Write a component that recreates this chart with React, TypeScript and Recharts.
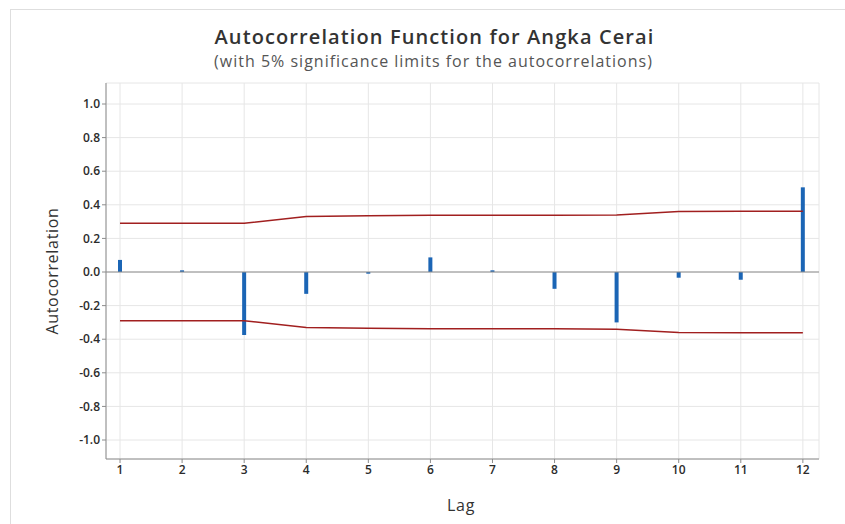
import React from 'react';
import {
	ComposedChart,
	Bar,
	Line,
	XAxis,
	YAxis,
	CartesianGrid,
	ReferenceLine,
} from 'recharts';

// ACF values
const lags = [1, 2, 3, 4, 5, 6, 7, 8, 9, 10, 11, 12];
const acf = [0.072, 0.01, -0.375, -0.13, -0.01, 0.087, 0.01, -0.1, -0.3, -0.034, -0.046, 0.504];
const upperLimit = [0.29, 0.29, 0.29, 0.33, 0.335, 0.338, 0.338, 0.338, 0.34, 0.36, 0.362, 0.362];
const lowerLimit = upperLimit.map((v) => -v);
const yTicks = [-1, -0.8, -0.6, -0.4, -0.2, 0, 0.2, 0.4, 0.6, 0.8, 1];

const data = lags.map((lag, i) => ({
	lag,
	acf: acf[i],
	upper: upperLimit[i],
	lower: lowerLimit[i],
}));

const FONT = '"Open Sans", "Noto Sans", sans-serif';
const tickStyle = { fontSize: 12, fontWeight: 600, fill: '#2b2b2b', fontFamily: FONT };

export default function App() {
	return (
		<div style={{ position: 'absolute', left: 0, top: 0, width: 845, height: 524, background: '#fff' }}>
			{/* outer frame */}
			<div
				style={{
					position: 'absolute',
					left: 10,
					top: 9,
					width: 835,
					height: 515,
					borderTop: '1px solid #dedede',
					borderLeft: '1px solid #dedede',
				}}
			/>
			<div
				style={{
					position: 'absolute',
					left: 0,
					width: 869,
					top: 23,
					textAlign: 'center',
					fontFamily: FONT,
					fontSize: 20,
					fontWeight: 600,
					letterSpacing: 1.1,
					color: '#333',
				}}
			>
				Autocorrelation Function for Angka Cerai
			</div>
			<div
				style={{
					position: 'absolute',
					left: 0,
					width: 867,
					top: 50,
					textAlign: 'center',
					fontFamily: FONT,
					fontSize: 16,
					letterSpacing: 1,
					color: '#555',
				}}
			>
				(with 5% significance limits for the autocorrelations)
			</div>
			<div
				style={{
					position: 'absolute',
					left: 52,
					top: 271,
					transform: 'translate(-50%, -50%) rotate(-90deg)',
					fontFamily: FONT,
					fontSize: 16,
					letterSpacing: 0.7,
					color: '#333',
					whiteSpace: 'nowrap',
				}}
			>
				Autocorrelation
			</div>
			<div
				style={{
					position: 'absolute',
					left: 461,
					top: 505,
					transform: 'translate(-50%, -50%)',
					fontFamily: FONT,
					fontSize: 16,
					letterSpacing: 0.7,
					color: '#333',
				}}
			>
				Lag
			</div>
			<ComposedChart
				width={845}
				height={524}
				data={data}
				margin={{ top: 83, right: 26, bottom: 35, left: 46 }}
				style={{ position: 'absolute', left: 0, top: 0 }}
			>
				<CartesianGrid xAxisId="main" yAxisId="main" stroke="#e6e6e6" strokeWidth={1} />
				<XAxis
					xAxisId="main"
					dataKey="lag"
					type="number"
					domain={[0.774, 12.26]}
					ticks={lags}
					allowDataOverflow
					height={30}
					tick={tickStyle}
					tickSize={4}
					tickLine={{ stroke: '#8c8c8c' }}
					axisLine={{ stroke: '#8c8c8c' }}
				/>
				<XAxis xAxisId="top" orientation="top" type="number" domain={[0.774, 12.26]} tick={false} tickLine={false} axisLine={{ stroke: '#9a9a9a' }} height={0} />
				<YAxis
					yAxisId="main"
					type="number"
					domain={[-1.113, 1.125]}
					ticks={yTicks}
					allowDataOverflow
					width={60}
					tick={tickStyle}
					tickSize={4}
					tickFormatter={(v: number) => v.toFixed(1)}
					tickLine={{ stroke: '#8c8c8c' }}
					axisLine={{ stroke: '#8c8c8c' }}
				/>
				<YAxis yAxisId="right" orientation="right" type="number" domain={[-1.113, 1.125]} tick={false} tickLine={false} axisLine={{ stroke: '#9a9a9a' }} width={0} />
				<ReferenceLine xAxisId="main" yAxisId="main" y={0} stroke="#8c8c8c" strokeWidth={1} />
				<Line
					xAxisId="main"
					yAxisId="main"
					dataKey="upper"
					type="linear"
					stroke="#a11f1f"
					strokeWidth={1.5}
					dot={false}
					isAnimationActive={false}
				/>
				<Line
					xAxisId="main"
					yAxisId="main"
					dataKey="lower"
					type="linear"
					stroke="#a11f1f"
					strokeWidth={1.5}
					dot={false}
					isAnimationActive={false}
				/>
				<Bar
					xAxisId="main"
					yAxisId="main"
					dataKey="acf"
					fill="#1b65b5"
					barSize={4}
					isAnimationActive={false}
				/>
			</ComposedChart>
		</div>
	);
}
